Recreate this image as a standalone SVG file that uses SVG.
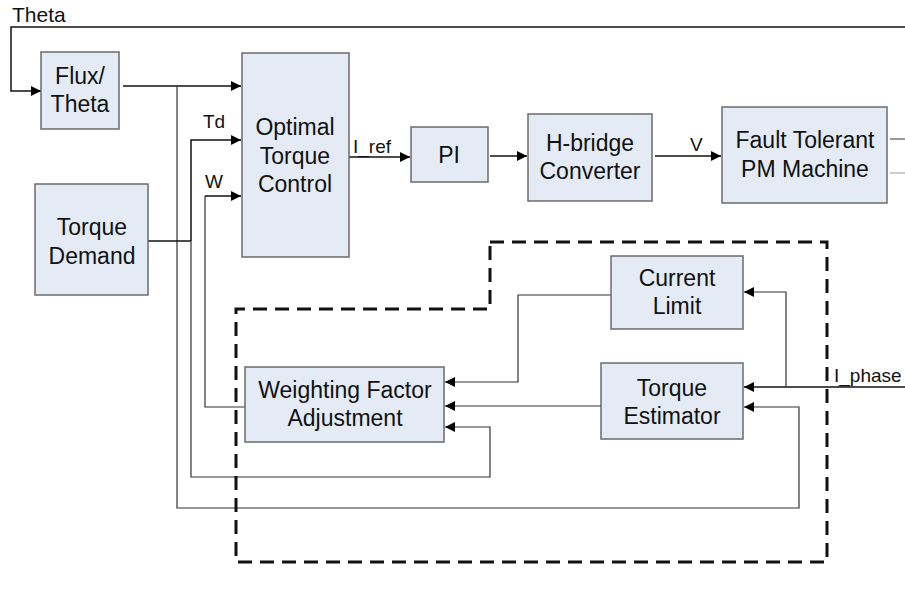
<svg xmlns="http://www.w3.org/2000/svg" width="905" height="598" viewBox="0 0 905 598">
<style>
.box{fill:#e4ebf5;stroke:#6b6b6b;stroke-width:1.5}
.t{font-family:"Liberation Sans",Arial,sans-serif;font-size:23px;fill:#111;text-anchor:middle}
.lbl{font-family:"Liberation Sans",Arial,sans-serif;font-size:19px;fill:#111}
.w{fill:none;stroke:#111;stroke-width:1.5}
.w2{fill:none;stroke:#333;stroke-width:1.2}
.dash{fill:none;stroke:#111;stroke-width:3;stroke-dasharray:14 8}
</style>
<defs>
<marker id="ah" viewBox="0 0 10 10" refX="10" refY="5" markerWidth="10" markerHeight="10" markerUnits="userSpaceOnUse" orient="auto">
<path d="M0,0 L10,5 L0,10 Z" fill="#000"/>
</marker>
</defs>
<g id="connectors">
<path class="w" d="M905,27 H11 V91 H41" marker-end="url(#ah)"/>
<path class="w" d="M123,86 H241" marker-end="url(#ah)"/>
<path class="w2" d="M177,86 V508 H799 V407 H744" marker-end="url(#ah)"/>
<path class="w" d="M148,241 H191"/>
<path class="w2" d="M191,241 V477 H490 V427 H445" marker-end="url(#ah)"/>
<path class="w" d="M191,241 V140 H241" marker-end="url(#ah)"/>
<path class="w2" d="M245,407 H205 V196"/>
<path class="w" d="M205,196 H241" marker-end="url(#ah)"/>
<path class="w" d="M349,157 H410" marker-end="url(#ah)"/>
<path class="w" d="M490,156 H527" marker-end="url(#ah)"/>
<path class="w" d="M655,156 H721" marker-end="url(#ah)"/>
<path stroke="#555" stroke-width="1.2" d="M890,139 H905"/>
<path stroke="#aaa" stroke-width="1.2" d="M890,173 H905"/>
<path class="w2" d="M611,295 H518 V382 H445" marker-end="url(#ah)"/>
<path class="w2" d="M601,406 H445" marker-end="url(#ah)"/>
<path class="w" d="M905,387 H744" marker-end="url(#ah)"/>
<path class="w2" d="M786,387 V292 H744" marker-end="url(#ah)"/>
<path class="dash" d="M490,242 H827 V562 H236 V309 H490 Z"/>
</g>
<g id="labels">
<text class="lbl" x="12" y="22" style="font-size:21px">Theta</text>
<text class="lbl" x="203" y="128">Td</text>
<text class="lbl" x="205" y="188">W</text>
<text class="lbl" x="353" y="153">I_ref</text>
<text class="lbl" x="690" y="151">V</text>
<text class="lbl" x="834" y="382">I_phase</text>
</g>
<g id="flux"><rect class="box" x="41" y="52" width="78" height="77"/><text class="t" x="80" y="84">Flux/</text><text class="t" x="80" y="112">Theta</text></g>
<g id="optimal"><rect class="box" x="242" y="53" width="107" height="204"/><text class="t" x="295" y="135">Optimal</text><text class="t" x="295" y="164">Torque</text><text class="t" x="295" y="192">Control</text></g>
<g id="torque-demand"><rect class="box" x="35" y="184" width="113" height="111"/><text class="t" x="92" y="235">Torque</text><text class="t" x="92" y="264">Demand</text></g>
<g id="pi"><rect class="box" x="411" y="127" width="77" height="55"/><text class="t" x="449" y="163">PI</text></g>
<g id="hbridge"><rect class="box" x="528" y="114" width="124" height="87"/><text class="t" x="590" y="151">H-bridge</text><text class="t" x="590" y="179">Converter</text></g>
<g id="machine"><rect class="box" x="722" y="107" width="165" height="96"/><text class="t" x="805" y="148">Fault Tolerant</text><text class="t" x="805" y="177">PM Machine</text></g>
<g id="current-limit"><rect class="box" x="611" y="256" width="132" height="73"/><text class="t" x="677" y="286">Current</text><text class="t" x="677" y="314">Limit</text></g>
<g id="torque-estimator"><rect class="box" x="601" y="363" width="142" height="76"/><text class="t" x="672" y="396">Torque</text><text class="t" x="672" y="424">Estimator</text></g>
<g id="weighting"><rect class="box" x="245" y="367" width="199" height="75"/><text class="t" x="345" y="398">Weighting Factor</text><text class="t" x="345" y="426">Adjustment</text></g>
</svg>
